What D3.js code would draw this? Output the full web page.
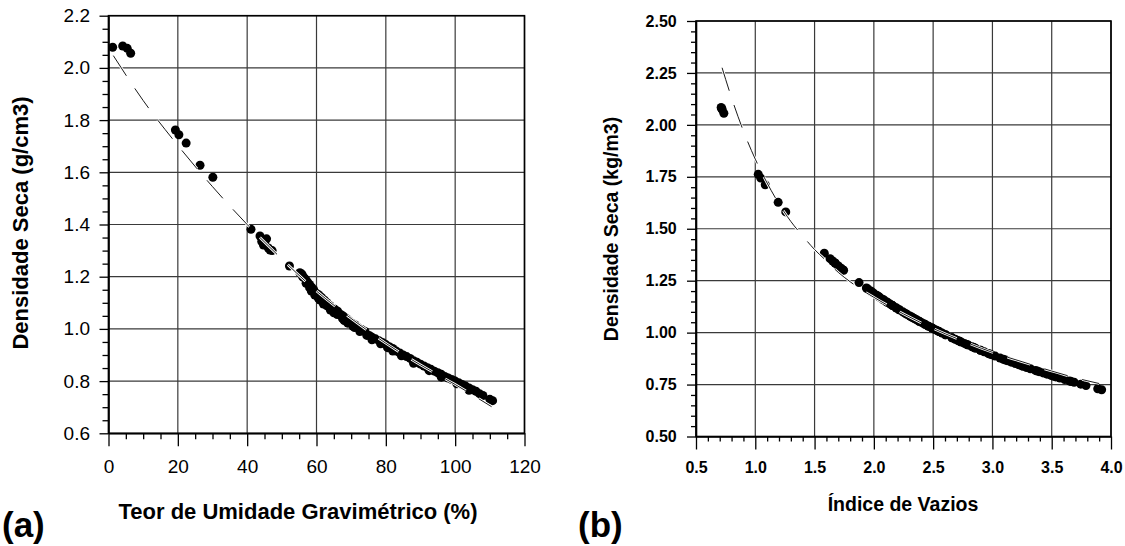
<!DOCTYPE html>
<html>
<head>
<meta charset="utf-8">
<script src="https://cdn.jsdelivr.net/npm/d3@7/dist/d3.min.js"></script>
<style>
    body { margin: 0; background: #fff; }
    svg { display: block; font-family: "Liberation Sans", Arial, Helvetica, sans-serif; }
</style>
</head>
<body>
<svg id="chart" width="1125" height="546"></svg>
<script>
// measured points, panel (a): moisture content (%) and dry density (g/cm3)
var moisture = [1.2, 4.1, 5.4, 6.4, 19.3, 20.3, 22.4, 26.4, 30.1,
    41.1, 43.7, 44.2, 44.7, 45.1, 45.6, 46.1, 46.6, 47.2, 52.2,
    55.2, 55.8, 56.3, 56.9, 57.4, 58.0, 58.6, 59.2, 60.0, 60.7, 61.5, 62.3, 63.0, 63.8, 64.5,
    65.3, 66.1, 67.0, 67.8, 68.6, 69.5, 70.3, 71.2, 72.0, 73.0, 74.0, 75.2, 76.0, 77.0, 78.0,
    79.0, 80.0, 81.0, 82.0, 83.0, 84.0, 85.0, 86.0, 87.0, 88.0, 89.0, 90.0, 91.0, 92.0, 93.0,
    94.0, 95.0, 96.0, 97.0, 98.0, 99.0, 100.0, 101.0, 102.0, 103.0, 104.0, 105.0, 106.0, 107.0,
    108.0, 110.0, 110.8,
    58.5, 61.0, 63.0, 65.0, 68.0, 71.0, 76.0, 82.0, 88.0, 96.0, 104.0,
    56.0, 57.0, 58.0, 59.5, 60.5, 62.0, 64.0, 66.0, 67.5, 69.0, 70.5, 72.5, 74.5, 78.5, 80.5,
    84.5, 92.5, 100.5];
var dryDensity = [2.079, 2.084, 2.075, 2.056, 1.762, 1.744, 1.712, 1.627, 1.581,
    1.382, 1.356, 1.335, 1.321, 1.334, 1.345, 1.310, 1.302, 1.300, 1.241,
    1.215, 1.210, 1.198, 1.190, 1.180, 1.170, 1.160, 1.150, 1.136, 1.130, 1.120, 1.110, 1.100, 1.090, 1.080,
    1.075, 1.068, 1.055, 1.048, 1.040, 1.030, 1.022, 1.015, 1.005, 0.998, 0.990, 0.975, 0.968, 0.962, 0.955,
    0.948, 0.940, 0.932, 0.925, 0.915, 0.908, 0.900, 0.894, 0.887, 0.878, 0.872, 0.865, 0.858, 0.851, 0.845,
    0.838, 0.832, 0.826, 0.818, 0.812, 0.806, 0.800, 0.794, 0.787, 0.781, 0.774, 0.767, 0.761, 0.752,
    0.745, 0.730, 0.725,
    1.145, 1.110, 1.088, 1.062, 1.032, 1.005, 0.958, 0.915, 0.868, 0.815, 0.765,
    1.200, 1.175, 1.158, 1.130, 1.118, 1.095, 1.072, 1.055, 1.040, 1.022, 1.010, 0.990, 0.975, 0.943, 0.928,
    0.897, 0.840, 0.790];

// panel (b): void ratio of the same samples (dry density is shared)
var voidRatio = [0.716, 0.712, 0.720, 0.735, 1.025, 1.046, 1.084, 1.193, 1.257,
    1.582, 1.631, 1.673, 1.701, 1.675, 1.653, 1.724, 1.740, 1.745, 1.875,
    1.937, 1.949, 1.978, 1.998, 2.024, 2.050, 2.076, 2.103, 2.141, 2.158, 2.186, 2.214, 2.244, 2.273, 2.304,
    2.319, 2.341, 2.382, 2.405, 2.431, 2.464, 2.491, 2.515, 2.550, 2.575, 2.604, 2.659, 2.686, 2.709, 2.736,
    2.764, 2.796, 2.828, 2.857, 2.899, 2.930, 2.964, 2.991, 3.023, 3.064, 3.092, 3.125, 3.159, 3.193, 3.223,
    3.258, 3.288, 3.320, 3.362, 3.394, 3.427, 3.460, 3.494, 3.534, 3.569, 3.610, 3.652, 3.689, 3.745,
    3.789, 3.888, 3.921,
    2.116, 2.214, 2.279, 2.360, 2.457, 2.550, 2.724, 2.899, 3.111, 3.378, 3.664,
    1.973, 2.037, 2.081, 2.158, 2.191, 2.258, 2.328, 2.382, 2.431, 2.491, 2.533, 2.604, 2.659, 2.784, 2.845,
    2.978, 3.248, 3.517];

// dashed fitted curves
var fitMoisture = [1.4, 10, 20, 30, 40, 50, 60, 70, 80, 90, 100, 110.5];
var fitDensityA = [2.047, 1.875, 1.703, 1.545, 1.400, 1.268, 1.145, 1.040, 0.945, 0.862, 0.787, 0.702];
var fitVoid = [0.72, 0.80, 0.90, 1.00, 1.10, 1.20, 1.30, 1.40, 1.50, 1.60, 1.70, 1.80, 1.90,
    2.00, 2.25, 2.50, 2.75, 3.00, 3.25, 3.50, 3.75, 3.90];
var fitDensityB = [2.275, 2.130, 1.970, 1.835, 1.720, 1.620, 1.535, 1.465, 1.400, 1.345, 1.290, 1.245, 1.205,
    1.170, 1.090, 1.020, 0.960, 0.905, 0.860, 0.815, 0.775, 0.755];

// axis ticks
var xTicksA = [0, 20, 40, 60, 80, 100, 120];
var yTicksA = [0.6, 0.8, 1.0, 1.2, 1.4, 1.6, 1.8, 2.0, 2.2];
var xTicksB = [0.5, 1.0, 1.5, 2.0, 2.5, 3.0, 3.5, 4.0];
var yTicksB = [0.50, 0.75, 1.00, 1.25, 1.50, 1.75, 2.00, 2.25, 2.50];

var svg = d3.select("#chart");

/**
 * Draws one scatter panel with grid, ticks, points and fitted curve
 */
function drawPanel(p) {
    var x = d3.scaleLinear().domain(p.xDomain).range([p.left, p.right]);
    var y = d3.scaleLinear().domain(p.yDomain).range([p.bottom, p.top]);
    var g = svg.append("g");

    // grid lines at the major ticks
    g.selectAll("line.gx").data(p.xTicks).enter().append("line")
        .attr("x1", function(d) { return x(d); }).attr("x2", function(d) { return x(d); })
        .attr("y1", p.top).attr("y2", p.bottom)
        .attr("stroke", "#3a3a3a").attr("stroke-width", 1.2);
    g.selectAll("line.gy").data(p.yTicks).enter().append("line")
        .attr("x1", p.left).attr("x2", p.right)
        .attr("y1", function(d) { return y(d); }).attr("y2", function(d) { return y(d); })
        .attr("stroke", "#3a3a3a").attr("stroke-width", 1.2);

    // minor ticks
    g.append("g").attr("transform", "translate(0," + p.bottom + ")")
        .call(d3.axisBottom(x).tickValues(p.xMinor).tickSize(p.minorLen).tickFormat(""))
        .call(function(a) { a.select(".domain").remove(); });
    g.append("g").attr("transform", "translate(" + p.left + ",0)")
        .call(d3.axisLeft(y).tickValues(p.yMinor).tickSize(p.minorLen).tickFormat(""))
        .call(function(a) { a.select(".domain").remove(); });

    // major axes
    var xAxis = g.append("g").attr("transform", "translate(0," + p.bottom + ")")
        .call(d3.axisBottom(x).tickValues(p.xTicks).tickSize(13).tickSizeOuter(0)
            .tickPadding(p.xPad).tickFormat(p.xFormat));
    var yAxis = g.append("g").attr("transform", "translate(" + p.left + ",0)")
        .call(d3.axisLeft(y).tickValues(p.yTicks).tickSize(9).tickSizeOuter(0)
            .tickPadding(p.yPad).tickFormat(p.yFormat));
    [xAxis, yAxis].forEach(function(a) {
        a.selectAll("text")
            .style("font-family", "'Liberation Sans', Arial, sans-serif")
            .style("font-size", p.tickFont + "px")
            .style("font-weight", p.tickWeight)
            .attr("fill", "#000");
        a.select(".domain").attr("stroke", "#000").attr("stroke-width", 1.6);
    });
    g.selectAll("g.tick line").attr("stroke", "#000").attr("stroke-width", 1.3);

    // frame
    g.append("rect")
        .attr("x", p.left).attr("y", p.top)
        .attr("width", p.right - p.left).attr("height", p.bottom - p.top)
        .attr("fill", "none").attr("stroke", "#000").attr("stroke-width", 1.6);

    // data points
    g.selectAll("circle").data(p.xs).enter().append("circle")
        .attr("cx", function(d) { return x(d); })
        .attr("cy", function(d, i) { return y(p.ys[i]); })
        .attr("r", 4.5)
        .attr("fill", "#000");

    // fitted curve: white halo first, thin black dash on top
    var fit = p.fitX.map(function(d, i) { return [d, p.fitY[i]]; });
    var line = d3.line()
        .x(function(d) { return x(d[0]); })
        .y(function(d) { return y(d[1]); })
        .curve(d3.curveMonotoneX);
    g.append("path").datum(fit).attr("d", line)
        .attr("fill", "none").attr("stroke", "#fff").attr("stroke-width", 2.6)
        .attr("stroke-dasharray", "24,15");
    g.append("path").datum(fit).attr("d", line)
        .attr("fill", "none").attr("stroke", "#000").attr("stroke-width", 0.9)
        .attr("stroke-dasharray", "24,15");
}

drawPanel({
    left: 108.5, right: 524.5, top: 15.7, bottom: 433.3,
    xDomain: [0, 120], yDomain: [0.6, 2.2],
    xTicks: xTicksA, yTicks: yTicksA,
    xMinor: d3.range(5, 120, 5).filter(function(d) { return d % 20 !== 0; }),
    yMinor: d3.range(0.65, 2.2, 0.05).filter(function(d) { return Math.abs(d * 5 - Math.round(d * 5)) > 0.01; }),
    minorLen: 6, xPad: 13.7, yPad: 9.5,
    xFormat: d3.format("d"), yFormat: d3.format(".1f"),
    tickFont: 19, tickWeight: "normal",
    xs: moisture, ys: dryDensity,
    fitX: fitMoisture, fitY: fitDensityA
});

drawPanel({
    left: 696, right: 1111, top: 21, bottom: 436.5,
    xDomain: [0.5, 4.0], yDomain: [0.5, 2.5],
    xTicks: xTicksB, yTicks: yTicksB,
    xMinor: d3.range(0.6, 4.0, 0.1).filter(function(d) { return Math.abs(d * 2 - Math.round(d * 2)) > 0.01; }),
    yMinor: d3.range(0.55, 2.5, 0.05).filter(function(d) { return Math.abs(d * 4 - Math.round(d * 4)) > 0.01; }),
    minorLen: 5, xPad: 12.2, yPad: 10.3,
    xFormat: d3.format(".1f"), yFormat: d3.format(".2f"),
    tickFont: 16, tickWeight: "bold",
    xs: voidRatio, ys: dryDensity,
    fitX: fitVoid, fitY: fitDensityB
});

// axis titles and panel letters
function label(txt, x, y, size, rotate) {
    var t = svg.append("text")
        .attr("text-anchor", "middle")
        .attr("font-weight", "bold")
        .attr("font-size", size)
        .attr("fill", "#000")
        .text(txt);
    if (rotate) {
        t.attr("transform", "translate(" + x + "," + y + ") rotate(-90)");
    } else {
        t.attr("x", x).attr("y", y);
    }
}

label("Teor de Umidade Gravimétrico (%)", 298, 519, 22);
label("Densidade Seca (g/cm3)", 28, 223, 22, true);
label("Índice de Vazios", 903, 511, 19.5);
label("Densidade Seca (kg/m3)", 618, 229, 19.5, true);

svg.append("text").attr("x", 2).attr("y", 537)
    .attr("font-weight", "bold").attr("font-size", 35).text("(a)");
svg.append("text").attr("x", 578).attr("y", 537)
    .attr("font-weight", "bold").attr("font-size", 35).text("(b)");
</script>
</body>
</html>
